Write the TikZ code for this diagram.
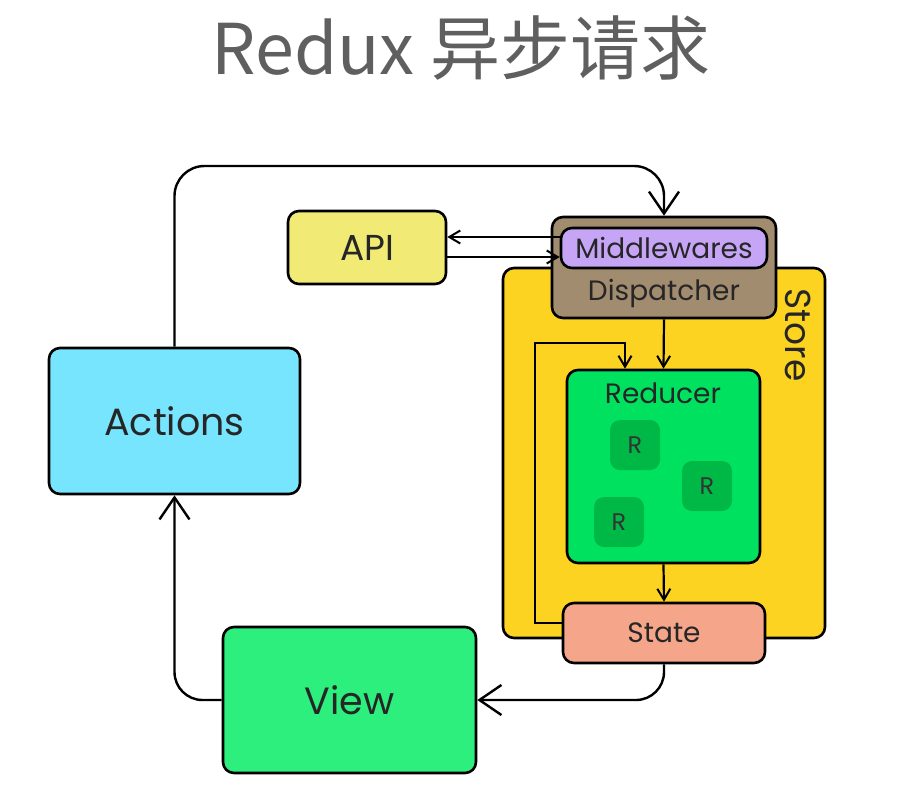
\documentclass[tikz,border=0pt]{standalone}
\usepackage{fontspec}
\setmainfont{Poppins}
\newfontfamily\cjk{Noto Sans CJK SC}
\usetikzlibrary{arrows.meta}

\definecolor{apiyellow}{HTML}{F1EB75}
\definecolor{dispbrown}{HTML}{A28C6F}
\definecolor{midpurple}{HTML}{C6A5F6}
\definecolor{storeyellow}{HTML}{FDD322}
\definecolor{redgreen}{HTML}{00E25F}
\definecolor{rdark}{HTML}{00B845}
\definecolor{statesalmon}{HTML}{F5A58A}
\definecolor{actcyan}{HTML}{78E5FF}
\definecolor{viewgreen}{HTML}{2DEF7D}
\definecolor{titlegray}{HTML}{5F5F5F}

\tikzset{
  blk/.style={draw=black, line width=2.6pt, rounded corners=11pt, inner sep=0pt},
  lbl/.style={font=\fontsize{28}{30}\selectfont, text=black!85},
  rbox/.style={fill=rdark, rounded corners=10pt, minimum width=50pt, minimum height=50pt,
    font=\fontsize{24}{26}\selectfont, text=black!80},
  bigtip/.style={line width=2.4pt, -{Straight Barb[length=22pt,width=30pt,line width=2.4pt]}},
  smalltip/.style={line width=2.2pt, -{Straight Barb[length=11pt,width=13pt,line width=2pt]}},
}

\begin{document}
\begin{tikzpicture}[x=1pt,y=-1pt]
  \useasboundingbox (0,0) rectangle (903,809);

  \node[text=titlegray, font=\cjk\fontsize{70}{72}\selectfont] (title) at (461,48) {Redux 异步请求};

  % store and its parts
  \node[blk, fill=storeyellow, minimum width=322pt, minimum height=370pt] (Store) at (664,453) {};
  \node[lbl, rotate=-90, font=\fontsize{36}{38}\selectfont] (storelbl) at (798,335) {Store};
  \node[blk, fill=dispbrown, minimum width=224pt, minimum height=101pt] (Disp) at (664,267.5) {};
  \node[blk, fill=midpurple, minimum width=206pt, minimum height=40pt, lbl] (Mid) at (664,248) {Middlewares};
  \node[lbl] (displbl) at (664,293) {Dispatcher};
  \node[blk, fill=redgreen, minimum width=193pt, minimum height=193pt] (Reducer) at (663.5,466.5) {};
  \node[lbl] (redlbl) at (663,393) {Reducer};
  \node[rbox] (r1) at (635,445) {R};
  \node[rbox] (r2) at (707,486) {R};
  \node[rbox] (r3) at (619,522) {R};
  \node[blk, fill=statesalmon, minimum width=202pt, minimum height=60pt, lbl] (State) at (664,633) {State};

  \coordinate (loop) at (535,343);
  \draw[smalltip] (State.west |- 0,623) -| (loop) -| (Reducer.north -| 625,0);
  \draw[smalltip] (Disp.south) -- (Reducer.north);
  \draw[smalltip] (Reducer.south) -- (State.north);

  % outer boxes
  \node[blk, fill=apiyellow, minimum width=158pt, minimum height=73pt, lbl, font=\fontsize{36}{38}\selectfont] (API) at (367,247.5) {API};
  \node[blk, fill=actcyan, minimum width=251pt, minimum height=146pt, lbl, font=\fontsize{38}{40}\selectfont] (Actions) at (174.5,421) {Actions};
  \node[blk, fill=viewgreen, minimum width=253pt, minimum height=146pt, lbl, font=\fontsize{38}{40}\selectfont] (View) at (349.5,700) {View};

  \draw[smalltip] (API.east |- 0,257) -- (Mid.west |- 0,257);
  \draw[smalltip] (Mid.west |- 0,237) -- (API.east |- 0,237);

  \coordinate (top) at (664,166);
  \draw[bigtip, rounded corners=30pt] (Actions.north) |- (top) -- (Disp.north);
  \draw[bigtip, rounded corners=28pt] (State.south) |- (View.east);
  \draw[bigtip, rounded corners=28pt] (View.west) -| (Actions.south);
\end{tikzpicture}
\end{document}
